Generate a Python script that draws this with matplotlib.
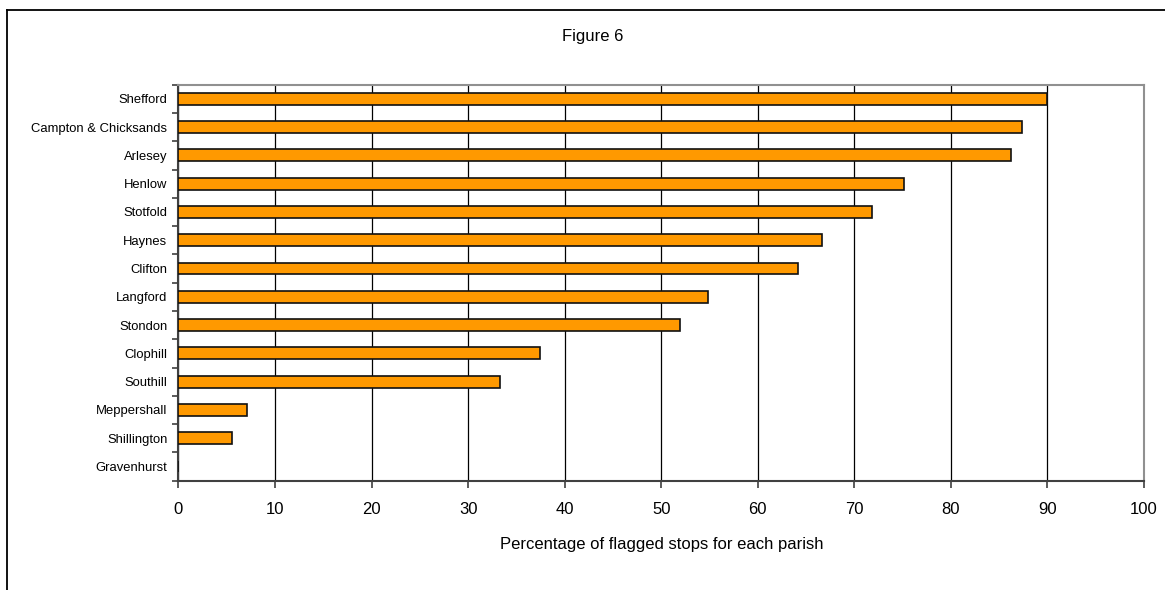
import numpy as np
import matplotlib.pyplot as plt
from matplotlib.lines import Line2D

plt.rcParams['font.family'] = ['Liberation Sans', 'DejaVu Sans']

parishes = ["Shefford", "Campton & Chicksands", "Arlesey", "Henlow", "Stotfold",
            "Haynes", "Clifton", "Langford", "Stondon", "Clophill", "Southill",
            "Meppershall", "Shillington", "Gravenhurst"]
flagged_pct = [90.0, 87.4, 86.2, 75.1, 71.8, 66.6, 64.2, 54.8, 51.9, 37.4, 33.3,
               7.1, 5.5, 0.0]
x_ticks = list(range(0, 101, 10))

fig = plt.figure(figsize=(11.65, 5.9), dpi=100)
ax = fig.add_axes([0.1532, 0.1853, 0.8288, 0.6711])

ypos = np.arange(len(parishes))
ax.barh(ypos, flagged_pct, height=0.42, color="#FF9900",
        edgecolor="#111111", linewidth=1.2, zorder=3)

ax.set_xlim(0, 100)
ax.set_ylim(len(parishes) - 0.5, -0.5)
ax.set_xticks(x_ticks)
ax.tick_params(axis="x", direction="out", length=5, width=1.2, color="#404040",
               labelsize=12, pad=10)
ax.grid(axis="x", color="black", linewidth=0.9, zorder=1)
ax.set_axisbelow(True)

# category labels at centres, small tick marks at the boundaries
ax.set_yticks(ypos)
ax.set_yticklabels(parishes, fontsize=9.4)
ax.tick_params(axis="y", which="major", length=0, pad=8)
ax.set_yticks(np.arange(-0.5, len(parishes) + 0.5, 1), minor=True)
ax.tick_params(axis="y", which="minor", direction="out", length=4, width=1.2,
               color="#404040")

for side in ("left", "bottom"):
    ax.spines[side].set_color("#404040")
    ax.spines[side].set_linewidth(1.5)
for side in ("top", "right"):
    ax.spines[side].set_color("#909090")
    ax.spines[side].set_linewidth(1.5)

ax.set_xlabel("Percentage of flagged stops for each parish", fontsize=12,
              labelpad=15)
fig.text(0.509, 1 - 37 / 590, "Figure 6", fontsize=12, ha="center", va="center")

# outer chart frame (left and top edges)
fig.add_artist(Line2D([7 / 1165, 7 / 1165], [0, 1 - 10 / 590], color="black",
                      linewidth=1.3, transform=fig.transFigure))
fig.add_artist(Line2D([7 / 1165, 1], [1 - 10 / 590, 1 - 10 / 590], color="black",
                      linewidth=1.3, transform=fig.transFigure))

fig.savefig("out.png", dpi=100)
